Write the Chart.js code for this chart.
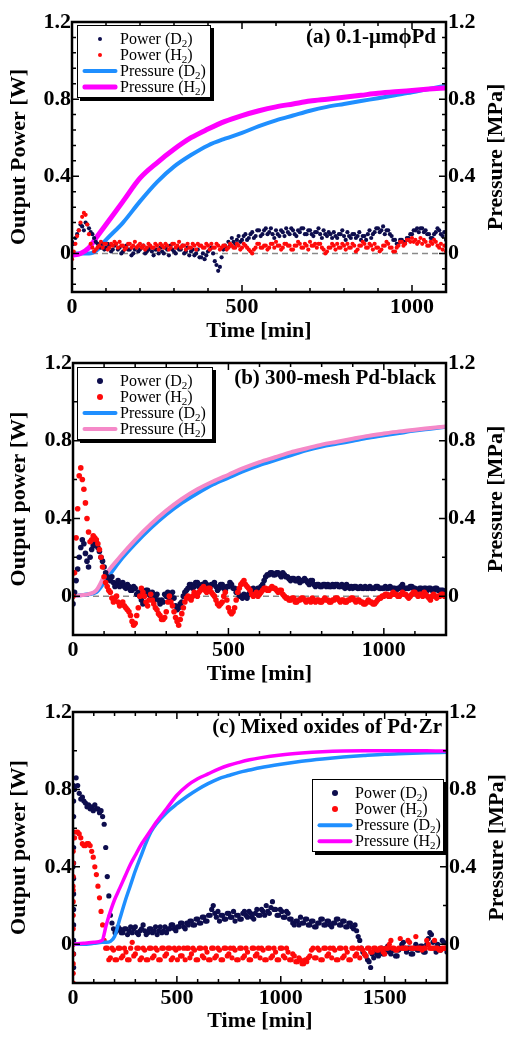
<!DOCTYPE html>
<html>
<head>
<meta charset="utf-8">
<script src="https://cdn.jsdelivr.net/npm/chart.js@4.4.1/dist/chart.umd.min.js"></script>
<style>
  body { margin: 0; background: #fff; }
  .panel { position: relative; width: 510px; }
  .legend {
    position: absolute;
    box-sizing: border-box;
    background: #fff;
    border: 1.5px solid #000;
    box-shadow: 3px 3px 0 #000;
    padding-top: 5px;
    font-family: 'Liberation Serif', 'Times New Roman', serif;
    font-size: 16px;
    color: #000;
  }
  .legend .row { display: flex; align-items: center; height: 16px; line-height: 16px; white-space: nowrap; }
  .legend .mk { position: relative; width: 35px; height: 16px; margin-left: 4px; margin-right: 3px; }
  .legend .mk i { position: absolute; left: 50%; top: 50%; transform: translate(-50%, -50%); display: block; }
  .legend sub { font-size: 11px; vertical-align: -3px; line-height: 0; }
</style>
</head>
<body>
<div class="panel" id="panelA" style="height:345px"><canvas id="chartA"></canvas></div>
<div class="panel" id="panelB" style="height:345px"><canvas id="chartB"></canvas></div>
<div class="panel" id="panelC" style="height:349px"><canvas id="chartC"></canvas></div>
<script>
// tick labels
const timeTicksA = [0, 500, 1000];
const timeTicksB = [0, 500, 1000];
const timeTicksC = [0, 500, 1000, 1500];
const powerTicks = [0, 0.4, 0.8, 1.2];

// (a) 0.1-um Pd : power sampled every 5 min, pressure on its own time grid
const stepA = 5;
const powerD2A = [
  0.06, 0.05, 0.08, 0.10, 0.12, 0.15, 0.14, 0.12, 0.16, 0.15,
  0.13, 0.11, 0.10, 0.08, 0.06, 0.05, 0.04, 0.03, 0.05, 0.02,
  0.03, 0.05, 0.04, 0.01, 0.02, 0.04, 0.05, 0.02, 0.03, 0.00,
  0.01, 0.03, 0.04, 0.02, 0.02, -0.01, 0.00, 0.02, 0.03, 0.01,
  0.02, 0.03, 0.04, 0.00, 0.01, 0.02, 0.03, 0.01, -0.01, 0.02,
  0.02, 0.00, 0.03, 0.01, 0.00, 0.03, 0.02, -0.01, 0.04, 0.02,
  0.01, 0.00, 0.03, 0.02, 0.02, 0.04, 0.00, 0.01, 0.03, -0.01,
  0.01, 0.02, -0.01, 0.00, 0.02, -0.02, -0.02, 0.00, -0.03, -0.01,
  0.01, 0.02, 0.03, 0.00, -0.04, -0.06, -0.09, -0.07, -0.02, 0.02,
  0.04, 0.03, 0.06, 0.04, 0.08, 0.06, 0.05, 0.07, 0.09, 0.06,
  0.07, 0.09, 0.10, 0.07, 0.08, 0.10, 0.11, 0.08, 0.09, 0.12,
  0.12, 0.09, 0.10, 0.12, 0.13, 0.10, 0.11, 0.13, 0.10, 0.08,
  0.12, 0.10, 0.09, 0.12, 0.11, 0.09, 0.13, 0.11, 0.10, 0.13,
  0.12, 0.10, 0.09, 0.12, 0.11, 0.13, 0.13, 0.10, 0.10, 0.12,
  0.12, 0.10, 0.09, 0.11, 0.11, 0.13, 0.10, 0.08, 0.12, 0.10,
  0.09, 0.11, 0.10, 0.08, 0.11, 0.09, 0.08, 0.10, 0.10, 0.12,
  0.09, 0.07, 0.11, 0.09, 0.08, 0.10, 0.10, 0.08, 0.09, 0.11,
  0.07, 0.09, 0.09, 0.07, 0.10, 0.12, 0.08, 0.10, 0.11, 0.13,
  0.13, 0.11, 0.12, 0.14, 0.10, 0.12, 0.12, 0.10, 0.09, 0.07,
  0.07, 0.05, 0.05, 0.07, 0.07, 0.06, 0.06, 0.08, 0.08, 0.10,
  0.10, 0.12, 0.12, 0.13, 0.11, 0.13, 0.13, 0.11, 0.12, 0.10,
  0.10, 0.08, 0.08, 0.10, 0.11, 0.13, 0.12, 0.10, 0.09, 0.11,
  0.07
];
const powerH2A = [
  -0.03, 0.01, 0.05, 0.09, 0.12, 0.16, 0.19, 0.21, 0.20, 0.15,
  0.10, 0.05, 0.03, 0.01, 0.02, 0.03, 0.04, 0.06, 0.03, 0.05,
  0.05, 0.02, 0.03, 0.05, 0.04, 0.06, 0.05, 0.03, 0.06, 0.04,
  0.04, 0.02, 0.03, 0.05, 0.05, 0.03, 0.04, 0.06, 0.03, 0.04,
  0.05, 0.03, 0.04, 0.02, 0.03, 0.05, 0.04, 0.03, 0.03, 0.05,
  0.04, 0.02, 0.05, 0.04, 0.03, 0.05, 0.04, 0.02, 0.03, 0.05,
  0.05, 0.03, 0.04, 0.06, 0.03, 0.04, 0.04, 0.02, 0.05, 0.03,
  0.03, 0.05, 0.04, 0.02, 0.05, 0.04, 0.04, 0.03, 0.03, 0.05,
  0.04, 0.02, 0.05, 0.03, 0.03, 0.05, 0.04, 0.02, 0.03, 0.04,
  0.04, 0.02, 0.03, 0.05, 0.04, 0.03, 0.03, 0.05, 0.04, 0.02,
  0.03, 0.05, 0.04, 0.03, 0.02, 0.01, 0.00, 0.02, 0.03, 0.05,
  0.05, 0.03, 0.03, 0.04, 0.04, 0.02, 0.03, 0.05, 0.05, 0.03,
  0.06, 0.04, 0.04, 0.02, 0.03, 0.05, 0.05, 0.04, 0.04, 0.02,
  0.02, 0.04, 0.04, 0.06, 0.05, 0.03, 0.03, 0.05, 0.04, 0.02,
  0.06, 0.04, 0.04, 0.05, 0.03, 0.05, 0.05, 0.03, 0.02, 0.00,
  0.01, 0.03, 0.03, 0.05, 0.04, 0.02, 0.05, 0.03, 0.03, 0.05,
  0.04, 0.02, 0.05, 0.03, 0.03, 0.05, 0.04, 0.01, 0.02, 0.04,
  0.04, 0.06, 0.05, 0.03, 0.03, 0.05, 0.04, 0.02, 0.05, 0.03,
  0.03, 0.01, 0.02, 0.04, 0.04, 0.06, 0.05, 0.03, 0.03, 0.01,
  0.01, 0.03, 0.04, 0.06, 0.06, 0.04, 0.05, 0.07, 0.07, 0.06,
  0.08, 0.06, 0.07, 0.05, 0.06, 0.08, 0.05, 0.07, 0.06, 0.04,
  0.04, 0.06, 0.05, 0.07, 0.06, 0.04, 0.03, 0.05, 0.02, 0.04,
  0.01
];
const pressTimeA = [0, 25, 50, 75, 100, 150, 200, 250, 300, 350, 400, 450, 500, 550, 600, 650, 700, 750, 800, 850, 900, 950, 1000, 1050, 1100];
const pressD2A = [0.0, 0.0, 0.0, 0.02, 0.07, 0.16, 0.27, 0.37, 0.45, 0.51, 0.56, 0.595, 0.625, 0.66, 0.69, 0.715, 0.74, 0.76, 0.775, 0.79, 0.805, 0.82, 0.835, 0.853, 0.87];
const pressH2A = [-0.01, 0.0, 0.03, 0.09, 0.15, 0.27, 0.39, 0.47, 0.54, 0.6, 0.645, 0.685, 0.715, 0.74, 0.76, 0.775, 0.79, 0.8, 0.81, 0.82, 0.83, 0.838, 0.845, 0.852, 0.858];

// (b) 300-mesh Pd-black : power every 5 min
const stepB = 5;
const powerD2B = [
  -0.04, 0.02, 0.08, 0.14, 0.20, 0.25, 0.29, 0.27, 0.22, 0.18,
  0.15, 0.20, 0.24, 0.26, 0.27, 0.28, 0.25, 0.23, 0.20, 0.18,
  0.15, 0.12, 0.10, 0.09, 0.08, 0.10, 0.07, 0.05, 0.06, 0.08,
  0.05, 0.06, 0.07, 0.05, 0.04, 0.06, 0.05, 0.03, 0.03, 0.05,
  0.04, 0.01, 0.02, 0.00, -0.02, -0.04, 0.01, 0.03, 0.03, 0.01,
  0.00, 0.02, -0.02, 0.00, 0.01, -0.02, -0.04, -0.02, -0.03, 0.01,
  0.00, 0.02, -0.02, 0.00, 0.02, -0.01, -0.05, -0.07, -0.06, -0.04,
  -0.03, 0.00, 0.02, 0.03, 0.04, 0.06, 0.06, 0.04, 0.05, 0.07,
  0.07, 0.05, 0.04, 0.06, 0.05, 0.07, 0.06, 0.04, 0.04, 0.06,
  0.06, 0.07, 0.05, 0.03, 0.04, 0.06, 0.06, 0.04, 0.03, 0.05,
  0.05, 0.07, 0.06, 0.04, 0.04, 0.02, 0.02, 0.00, 0.00, -0.01,
  0.01, 0.00, -0.01, 0.01, 0.02, 0.03, 0.04, 0.02, 0.02, 0.04,
  0.03, 0.05, 0.06, 0.08, 0.10, 0.11, 0.11, 0.12, 0.12, 0.11,
  0.11, 0.12, 0.12, 0.11, 0.10, 0.12, 0.11, 0.10, 0.10, 0.09,
  0.08, 0.09, 0.09, 0.08, 0.08, 0.09, 0.07, 0.08, 0.08, 0.09,
  0.08, 0.07, 0.06, 0.08, 0.08, 0.06, 0.05, 0.06, 0.06, 0.05,
  0.05, 0.06, 0.06, 0.05, 0.06, 0.05, 0.05, 0.06, 0.05, 0.06,
  0.06, 0.05, 0.05, 0.06, 0.05, 0.04, 0.06, 0.05, 0.04, 0.05,
  0.04, 0.05, 0.05, 0.04, 0.04, 0.05, 0.04, 0.04, 0.05, 0.04,
  0.04, 0.05, 0.04, 0.04, 0.04, 0.05, 0.05, 0.04, 0.04, 0.04,
  0.04, 0.05, 0.04, 0.04, 0.05, 0.04, 0.04, 0.04, 0.03, 0.04,
  0.04, 0.05, 0.06, 0.04, 0.04, 0.04, 0.04, 0.05, 0.05, 0.04,
  0.04, 0.03, 0.03, 0.04, 0.04, 0.03, 0.04, 0.04, 0.03, 0.04,
  0.04, 0.03, 0.03, 0.04, 0.04, 0.03, 0.03, 0.03, 0.03, 0.02,
  0.02
];
const powerH2B = [
  0.00, 0.12, 0.30, 0.45, 0.62, 0.66, 0.60, 0.55, 0.48, 0.40,
  0.33, 0.28, 0.29, 0.31, 0.30, 0.29, 0.27, 0.24, 0.20, 0.15,
  0.10, 0.07, 0.05, 0.03, 0.02, -0.01, -0.03, -0.01, 0.00, -0.03,
  -0.05, -0.04, -0.03, -0.05, -0.06, -0.07, -0.08, -0.10, -0.13, -0.15,
  -0.14, -0.10, -0.06, 0.00, 0.04, 0.02, 0.00, -0.03, -0.05, -0.02,
  0.01, -0.02, -0.04, -0.06, -0.07, -0.09, -0.10, -0.12, -0.12, -0.11,
  -0.08, -0.03, 0.00, -0.03, -0.05, -0.08, -0.11, -0.13, -0.15, -0.12,
  -0.09, -0.06, -0.03, -0.01, 0.00, -0.01, -0.02, 0.00, 0.02, 0.01,
  0.00, 0.02, 0.03, 0.04, 0.05, 0.03, 0.02, 0.04, 0.04, 0.02,
  0.01, 0.00, -0.02, -0.04, -0.05, -0.04, -0.03, 0.00, 0.02, -0.02,
  -0.06, -0.08, -0.09, -0.08, -0.06, -0.02, 0.02, 0.04, 0.06, 0.07,
  0.08, 0.06, 0.05, 0.04, 0.03, 0.01, 0.00, 0.01, 0.02, 0.00,
  0.01, 0.02, 0.03, 0.04, 0.04, 0.03, 0.03, 0.04, 0.05, 0.04,
  0.04, 0.03, 0.02, 0.03, 0.03, 0.01, 0.00, -0.01, -0.01, -0.02,
  -0.02, -0.01, -0.01, -0.03, -0.03, -0.02, -0.02, -0.01, -0.01, -0.02,
  -0.03, -0.02, -0.02, -0.03, -0.01, -0.02, -0.03, -0.02, -0.02, -0.03,
  -0.03, -0.02, -0.01, -0.02, -0.02, -0.03, -0.03, -0.02, -0.02, -0.01,
  -0.01, -0.02, -0.03, -0.02, -0.02, -0.03, -0.03, -0.02, -0.02, -0.01,
  -0.01, -0.02, -0.03, -0.02, -0.02, -0.03, -0.03, -0.04, -0.04, -0.03,
  -0.02, -0.03, -0.03, -0.04, -0.04, -0.03, -0.02, -0.01, -0.01, 0.00,
  0.00, 0.01, 0.01, 0.00, 0.00, 0.01, 0.02, 0.01, 0.01, 0.00,
  0.00, 0.01, 0.02, 0.01, 0.01, 0.00, -0.01, 0.00, 0.01, 0.02,
  0.02, 0.01, 0.00, 0.01, 0.01, 0.00, 0.02, 0.01, 0.00, -0.01,
  -0.02, 0.00, 0.01, 0.00, -0.01, 0.00, 0.00, 0.01, 0.01, 0.00,
  0.00
];
const pressTimeB = [0, 25, 50, 75, 100, 150, 200, 250, 300, 350, 400, 450, 500, 550, 600, 650, 700, 750, 800, 850, 900, 950, 1000, 1050, 1100, 1150, 1200];
const pressD2B = [0.0, 0.005, 0.01, 0.02, 0.07, 0.18, 0.27, 0.35, 0.42, 0.48, 0.53, 0.575, 0.61, 0.645, 0.675, 0.7, 0.725, 0.75, 0.77, 0.785, 0.8, 0.815, 0.828, 0.84, 0.852, 0.862, 0.872];
const pressH2B = [0.0, 0.005, 0.01, 0.03, 0.1, 0.2, 0.29, 0.37, 0.44, 0.5, 0.55, 0.59, 0.625, 0.66, 0.69, 0.715, 0.74, 0.76, 0.78, 0.795, 0.81, 0.825, 0.837, 0.848, 0.857, 0.865, 0.873];

// (c) Mixed oxides of Pd-Zr : power every 7.5 min, plus the fast start-up readings
const stepC = 7.5;
const powerD2C = [
  0.40, 0.80, 0.86, 0.82, 0.78, 0.75, 0.76, 0.74, 0.73, 0.71,
  0.72, 0.70, 0.71, 0.69, 0.72, 0.70, 0.70, 0.68, 0.69, 0.66,
  0.62, 0.50, 0.35, 0.25, 0.15, 0.11, 0.08, 0.06, 0.07, 0.09,
  0.08, 0.06, 0.06, 0.08, 0.08, 0.05, 0.07, 0.09, 0.06, 0.08,
  0.09, 0.06, 0.05, 0.07, 0.08, 0.10, 0.07, 0.05, 0.06, 0.08,
  0.08, 0.06, 0.07, 0.09, 0.05, 0.07, 0.09, 0.06, 0.07, 0.09,
  0.06, 0.08, 0.08, 0.10, 0.10, 0.08, 0.07, 0.09, 0.09, 0.11,
  0.11, 0.09, 0.08, 0.11, 0.10, 0.12, 0.12, 0.10, 0.10, 0.13,
  0.13, 0.11, 0.11, 0.14, 0.14, 0.12, 0.12, 0.15, 0.15, 0.18,
  0.20, 0.16, 0.14, 0.17, 0.12, 0.15, 0.15, 0.13, 0.13, 0.16,
  0.16, 0.14, 0.14, 0.17, 0.12, 0.15, 0.15, 0.13, 0.13, 0.16,
  0.17, 0.15, 0.14, 0.17, 0.16, 0.14, 0.13, 0.16, 0.18, 0.15,
  0.15, 0.18, 0.17, 0.15, 0.20, 0.17, 0.16, 0.19, 0.22, 0.18,
  0.18, 0.15, 0.15, 0.18, 0.17, 0.14, 0.14, 0.17, 0.16, 0.13,
  0.13, 0.11, 0.10, 0.12, 0.12, 0.10, 0.14, 0.11, 0.11, 0.13,
  0.13, 0.10, 0.10, 0.12, 0.12, 0.09, 0.09, 0.11, 0.11, 0.13,
  0.13, 0.10, 0.10, 0.12, 0.12, 0.10, 0.09, 0.11, 0.11, 0.13,
  0.13, 0.10, 0.10, 0.12, 0.12, 0.09, 0.09, 0.11, 0.11, 0.09,
  0.08, 0.10, 0.07, 0.04, 0.02, -0.02, -0.04, -0.05, -0.06, -0.08,
  -0.09, -0.12, -0.05, -0.07, -0.03, -0.05, -0.06, -0.04, -0.02, -0.05,
  -0.04, -0.02, -0.01, -0.04, -0.05, -0.03, -0.03, -0.06, -0.06, -0.03,
  -0.02, 0.00, 0.01, -0.02, -0.04, -0.02, -0.02, -0.05, -0.05, -0.02,
  0.00, -0.03, -0.03, -0.01, -0.01, -0.04, -0.04, 0.00, 0.03, 0.06,
  0.05, 0.01, -0.02, -0.04, 0.00, -0.02, -0.03, 0.02, 0.01, -0.02,
  -0.04
];
const powerH2C = [
  0.30, 0.55, 0.58, 0.58, 0.57, 0.55, 0.52, 0.51, 0.51, 0.52,
  0.52, 0.51, 0.48, 0.45, 0.40, 0.36, 0.30, 0.24, 0.17, 0.10,
  0.02, -0.02, -0.02, -0.08, -0.07, -0.02, -0.03, -0.08, -0.08, -0.02,
  -0.02, -0.07, -0.06, -0.02, -0.04, -0.08, -0.08, -0.02, 0.01, -0.06,
  -0.05, -0.02, -0.02, -0.08, -0.07, -0.02, -0.03, -0.08, -0.08, -0.02,
  -0.02, -0.07, -0.06, -0.02, -0.03, -0.08, -0.08, -0.02, -0.02, -0.06,
  -0.05, -0.02, -0.02, -0.08, -0.07, -0.02, -0.03, -0.08, -0.02, -0.06,
  -0.06, -0.02, -0.08, -0.02, -0.02, -0.07, -0.05, -0.02, -0.03, -0.08,
  -0.08, -0.02, -0.02, -0.06, -0.07, -0.02, -0.04, -0.08, -0.08, -0.02,
  -0.02, -0.07, -0.06, -0.02, -0.03, -0.08, -0.08, -0.02, -0.02, -0.06,
  -0.05, -0.02, -0.07, -0.02, -0.03, -0.08, -0.08, -0.02, -0.02, -0.07,
  -0.06, -0.02, -0.04, -0.08, -0.08, -0.02, -0.02, -0.06, -0.05, -0.02,
  -0.07, -0.02, -0.03, -0.08, -0.08, -0.02, -0.02, -0.07, -0.06, -0.02,
  -0.04, -0.08, -0.08, -0.02, -0.02, -0.06, -0.07, -0.02, -0.04, -0.08,
  -0.08, -0.05, -0.06, -0.09, -0.09, -0.07, -0.08, -0.10, -0.10, -0.08,
  -0.09, -0.07, -0.06, -0.03, -0.02, -0.07, -0.07, -0.02, -0.03, -0.08,
  -0.08, -0.02, -0.02, -0.06, -0.05, -0.02, -0.07, -0.02, -0.03, -0.08,
  -0.08, -0.02, -0.02, -0.07, -0.06, -0.02, -0.04, -0.08, -0.08, -0.02,
  -0.02, -0.06, -0.05, -0.02, -0.07, -0.02, -0.03, -0.05, -0.06, -0.02,
  -0.02, -0.04, -0.04, -0.02, -0.02, -0.03, -0.03, -0.02, -0.02, -0.04,
  -0.05, -0.02, -0.02, 0.00, 0.02, -0.02, -0.02, -0.03, -0.03, -0.02,
  0.03, -0.02, -0.02, -0.02, -0.02, 0.02, 0.01, -0.02, -0.02, -0.02,
  0.04, -0.02, -0.02, -0.02, -0.03, -0.02, -0.02, 0.02, 0.00, -0.02,
  -0.02, -0.02, 0.02, -0.02, -0.02, -0.03, -0.03, -0.02, -0.02, -0.02,
  -0.02
];
const startTimeD2C = [3, 3, 3, 3, 3, 3, 3, 3, 3, 3, 3, 3, 3];
const startD2C = [-0.12, -0.05, 0.02, 0.10, 0.18, 0.26, 0.34, 0.42, 0.50, 0.58, 0.66, 0.74, 0.82];
const startTimeH2C = [1, 1, 1, 1, 1, 1, 1, 1, 1, 1, 1, 1, 1];
const startH2C = [-0.20, -0.15, -0.10, -0.05, 0.00, 0.08, 0.15, 0.22, 0.28, 0.35, 0.42, 0.48, 0.55];
const pressTimeC = [0, 50, 100, 140, 160, 180, 200, 225, 250, 275, 300, 325, 350, 375, 400, 450, 500, 550, 600, 650, 700, 750, 800, 850, 900, 1000, 1100, 1200, 1300, 1400, 1500, 1600, 1700, 1800];
const pressD2C = [0.0, 0.0, 0.005, 0.01, 0.01, 0.015, 0.04, 0.13, 0.22, 0.3, 0.38, 0.45, 0.52, 0.58, 0.62, 0.68, 0.725, 0.765, 0.8, 0.83, 0.855, 0.872, 0.888, 0.9, 0.912, 0.93, 0.945, 0.957, 0.967, 0.975, 0.982, 0.986, 0.99, 0.992];
const pressH2C = [0.0, 0.005, 0.01, 0.02, 0.1, 0.17, 0.23, 0.29, 0.35, 0.41, 0.46, 0.51, 0.55, 0.59, 0.63, 0.7, 0.77, 0.82, 0.855, 0.88, 0.905, 0.925, 0.94, 0.953, 0.963, 0.978, 0.988, 0.995, 0.999, 1.0, 1.0, 1.0, 1.0, 0.998];

const NAVY = '#0d0d4d';
const RED = '#ff0a0a';
const BLUE = '#1f8fff';
const SERIF = "'Liberation Serif', 'Times New Roman', serif";

const stepped = (step, values) => values.map((v, i) => ({ x: i * step, y: v }));
const paired = (times, values) => values.map((v, i) => ({ x: times[i], y: v }));
const isMultiple = (v, step) => Math.abs(v / step - Math.round(v / step)) < 1e-6;

// frame, inward ticks, zero line, panel label and right-hand title
const framePlugin = {
  id: 'frame',
  beforeDatasetsDraw(chart, args, opts) {
    if (!opts.zeroLine) return;
    const { ctx, chartArea: a, scales } = chart;
    const py = scales.y.getPixelForValue(0);
    ctx.save();
    ctx.strokeStyle = '#8a8a8a';
    ctx.lineWidth = 1.5;
    ctx.setLineDash([6, 4]);
    ctx.beginPath();
    ctx.moveTo(a.left, py);
    ctx.lineTo(a.right, py);
    ctx.stroke();
    ctx.restore();
  },
  afterDraw(chart, args, opts) {
    const { ctx, chartArea: a, scales } = chart;
    const sx = scales.x, sy = scales.y;
    const xMinor = 100, xMajor = 500, yMinor = chart.$yMinor || 0.2;
    ctx.save();
    ctx.setLineDash([]);
    ctx.strokeStyle = '#000';
    ctx.lineWidth = 1.5;
    ctx.beginPath();
    for (let i = 0; i * xMinor <= sx.max + 1e-9; i++) {
      const v = i * xMinor;
      const px = sx.getPixelForValue(v);
      const len = isMultiple(v, xMajor) ? 7 : 4;
      ctx.moveTo(px, a.bottom); ctx.lineTo(px, a.bottom - len);
      ctx.moveTo(px, a.top); ctx.lineTo(px, a.top + len);
    }
    for (let i = Math.ceil(sy.min / yMinor - 1e-9); i * yMinor <= sy.max + 1e-9; i++) {
      const v = i * yMinor;
      const py = sy.getPixelForValue(v);
      const len = isMultiple(v, 0.4) ? 7 : 4;
      ctx.moveTo(a.left, py); ctx.lineTo(a.left + len, py);
      ctx.moveTo(a.right, py); ctx.lineTo(a.right - len, py);
    }
    ctx.stroke();
    ctx.lineWidth = 2.5;
    ctx.strokeRect(a.left, a.top, a.right - a.left, a.bottom - a.top);

    ctx.fillStyle = '#000';
    ctx.font = 'bold 21px ' + SERIF;
    ctx.textAlign = 'right';
    ctx.textBaseline = 'alphabetic';
    ctx.fillText(opts.label, a.right - opts.labelPad, a.top + 21);

    ctx.font = 'bold 22px ' + SERIF;
    ctx.textAlign = 'center';
    ctx.textBaseline = 'middle';
    ctx.translate(a.right + 50, (a.top + a.bottom) / 2);
    ctx.rotate(-Math.PI / 2);
    ctx.fillText('Pressure [MPa]', 0, 0);
    ctx.restore();
  }
};

function buildLegend(chart, panel, cfg) {
  const box = document.createElement('div');
  box.className = 'legend';
  box.style.width = cfg.legend.width + 'px';
  box.style.height = '73px';
  const a = chart.chartArea;
  box.style.top = (a.top + cfg.legend.top) + 'px';
  if (cfg.legend.right !== undefined) {
    box.style.left = (a.right - cfg.legend.right - cfg.legend.width) + 'px';
  } else {
    box.style.left = (a.left + cfg.legend.left) + 'px';
  }
  chart.data.datasets.forEach((ds) => {
    const row = document.createElement('div');
    row.className = 'row';
    const mk = document.createElement('span');
    mk.className = 'mk';
    const sym = document.createElement('i');
    if (ds.showLine) {
      sym.style.width = '35px';
      sym.style.height = ds.borderWidth + 'px';
      sym.style.background = ds.borderColor;
      sym.style.borderRadius = '2px';
    } else {
      const d = cfg.legendDot;
      sym.style.width = d + 'px';
      sym.style.height = d + 'px';
      sym.style.borderRadius = '50%';
      sym.style.background = ds.pointBackgroundColor;
    }
    mk.appendChild(sym);
    const tx = document.createElement('span');
    tx.innerHTML = ds.label.replace('₂', '<sub>2</sub>');
    row.appendChild(mk);
    row.appendChild(tx);
    box.appendChild(row);
  });
  panel.appendChild(box);
}

function makePanel(cfg) {
  const panel = document.getElementById(cfg.panel);
  const pointStyle = (color, order) => ({
    showLine: false,
    pointRadius: cfg.dotRadius,
    pointBackgroundColor: color,
    pointBorderWidth: 0,
    pointHoverRadius: cfg.dotRadius,
    yAxisID: 'y',
    order: order
  });
  const lineStyle = (color, width, order) => ({
    showLine: true,
    borderColor: color,
    backgroundColor: color,
    borderWidth: width,
    pointRadius: 0,
    cubicInterpolationMode: 'monotone',
    yAxisID: 'y1',
    order: order
  });
  const d2Points = stepped(cfg.step, cfg.powerD2).concat(cfg.startD2 ? paired(cfg.startD2[0], cfg.startD2[1]) : []);
  const h2Points = stepped(cfg.step, cfg.powerH2).concat(cfg.startH2 ? paired(cfg.startH2[0], cfg.startH2[1]) : []);
  const datasets = [
    Object.assign({ label: 'Power (D₂)', data: d2Points }, pointStyle(NAVY, cfg.order.d2)),
    Object.assign({ label: 'Power (H₂)', data: h2Points }, pointStyle(RED, cfg.order.h2)),
    Object.assign({ label: 'Pressure (D₂)', data: paired(cfg.pressTime, cfg.pressD2) }, lineStyle(BLUE, cfg.lineWidth, cfg.order.pd2)),
    Object.assign({ label: 'Pressure (H₂)', data: paired(cfg.pressTime, cfg.pressH2) }, lineStyle(cfg.h2Color, cfg.lineWidth + cfg.h2Extra, cfg.order.ph2))
  ];
  const tickFont = { family: SERIF, weight: 'bold', size: 22 };
  const yTicks = {
    autoSkip: false,
    color: '#000',
    font: tickFont,
    padding: 1,
    callback: (v) => (Math.abs(v) < 1e-9 ? '0' : v.toFixed(1))
  };
  const setTicks = (values) => (scale) => { scale.ticks = values.map((v) => ({ value: v })); };
  const area = cfg.area;
  const chart = new Chart(document.getElementById(cfg.canvas), {
    type: 'scatter',
    data: { datasets: datasets },
    plugins: [framePlugin],
    options: {
      responsive: true,
      maintainAspectRatio: false,
      animation: false,
      layout: { padding: { top: area.top, left: 0, right: 0, bottom: 0 } },
      plugins: {
        legend: { display: false },
        tooltip: { enabled: false },
        frame: { label: cfg.label, labelPad: cfg.labelPad, zeroLine: cfg.zeroLine }
      },
      scales: {
        x: {
          type: 'linear',
          min: 0,
          max: cfg.xMax,
          grid: { display: false, drawTicks: false },
          border: { display: false },
          afterBuildTicks: setTicks(cfg.timeTicks),
          ticks: {
            autoSkip: false,
            maxRotation: 0,
            color: '#000',
            font: tickFont,
            padding: 2,
            callback: (v) => String(v)
          },
          title: {
            display: true,
            text: 'Time [min]',
            color: '#000',
            font: { family: SERIF, weight: 'bold', size: 22 },
            padding: { top: 0, bottom: cfg.xTitlePad }
          },
          afterFit: (scale) => { scale.height = cfg.height - area.bottom; }
        },
        y: {
          position: 'left',
          min: -0.2,
          max: 1.2,
          grid: { display: false, drawTicks: false },
          border: { display: false },
          afterBuildTicks: setTicks(powerTicks),
          ticks: yTicks,
          title: {
            display: true,
            text: cfg.yTitle,
            color: '#000',
            font: { family: SERIF, weight: 'bold', size: 22 },
            padding: { top: 6, bottom: 0 }
          },
          afterFit: (scale) => { scale.width = area.left; }
        },
        y1: {
          position: 'right',
          min: -0.2,
          max: 1.2,
          grid: { display: false, drawTicks: false },
          border: { display: false },
          afterBuildTicks: setTicks(powerTicks),
          ticks: Object.assign({}, yTicks, { padding: 2 }),
          afterFit: (scale) => { scale.width = 510 - area.right; }
        }
      }
    }
  });
  chart.$yMinor = cfg.yMinor;
  chart.update();
  buildLegend(chart, panel, cfg);
  return chart;
}

makePanel({
  panel: 'panelA', canvas: 'chartA', height: 345,
  area: { left: 72, right: 446, top: 22, bottom: 292 },
  label: '(a) 0.1-μmϕPd', labelPad: 10, yTitle: 'Output Power [W]',
  xMax: 1100, timeTicks: timeTicksA, yMinor: 0.08, zeroLine: true, xTitlePad: 0,
  step: stepA, powerD2: powerD2A, powerH2: powerH2A,
  pressTime: pressTimeA, pressD2: pressD2A, pressH2: pressH2A,
  h2Color: '#ff00ff', lineWidth: 4, h2Extra: 1, dotRadius: 2.1,
  order: { d2: 2, h2: 1, pd2: 4, ph2: 3 },
  legend: { left: 5, top: 3, width: 134 }, legendDot: 4
});

makePanel({
  panel: 'panelB', canvas: 'chartB', height: 345,
  area: { left: 73, right: 446, top: 18, bottom: 290 },
  label: '(b) 300-mesh Pd-black', labelPad: 10, yTitle: 'Output power [W]',
  xMax: 1200, timeTicks: timeTicksB, yMinor: 0.2, zeroLine: true, xTitlePad: 2,
  step: stepB, powerD2: powerD2B, powerH2: powerH2B,
  pressTime: pressTimeB, pressD2: pressD2B, pressH2: pressH2B,
  h2Color: '#f589c8', lineWidth: 4, h2Extra: 0, dotRadius: 2.8,
  order: { d2: 2, h2: 1, pd2: 4, ph2: 3 },
  legend: { left: 4, top: 4, width: 136 }, legendDot: 6
});

makePanel({
  panel: 'panelC', canvas: 'chartC', height: 349,
  area: { left: 73, right: 447, top: 22, bottom: 293 },
  label: '(c) Mixed oxides of Pd·Zr', labelPad: 5, yTitle: 'Output power [W]',
  xMax: 1800, timeTicks: timeTicksC, yMinor: 0.2, zeroLine: false, xTitlePad: 4,
  step: stepC, powerD2: powerD2C, powerH2: powerH2C,
  startD2: [startTimeD2C, startD2C], startH2: [startTimeH2C, startH2C],
  pressTime: pressTimeC, pressD2: pressD2C, pressH2: pressH2C,
  h2Color: '#ff00ff', lineWidth: 3.5, h2Extra: 0, dotRadius: 2.6,
  order: { d2: 4, h2: 3, pd2: 2, ph2: 1 },
  legend: { right: 3, top: 67, width: 132 }, legendDot: 6
});
</script>
</body>
</html>
